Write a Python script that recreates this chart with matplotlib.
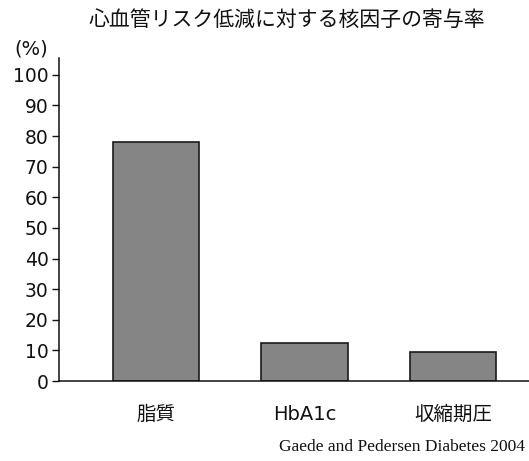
import matplotlib
matplotlib.use("Agg")
import matplotlib.pyplot as plt

# Contribution of each factor to cardiovascular risk reduction (%)
categories = ["脂質", "HbA1c", "収縮期圧"]
values = [78, 12.3, 9.4]
yticks = [0, 10, 20, 30, 40, 50, 60, 70, 80, 90, 100]

title = "心血管リスク低減に対する核因子の寄与率"
unit_label = "(%)"
source = "Gaede and Pedersen Diabetes 2004"

fam = ["DejaVu Sans", "Noto Sans CJK JP"]
cjk = ["Noto Sans CJK JP", "DejaVu Sans"]

W, H = 529, 461
fig = plt.figure(figsize=(W / 100, H / 100), dpi=100)
fig.patch.set_facecolor("white")

ax_l, ax_r, ax_b, ax_t = 59, 529, 381, 58
ax = fig.add_axes([ax_l / W, (H - ax_b) / H, (ax_r - ax_l) / W, (ax_b - ax_t) / H])

x = list(range(len(categories)))
ax.bar(x, values, width=0.58, color="#858585", edgecolor="#1a1a1a", linewidth=1.2, zorder=2)

ax.set_xlim(-0.653, 2.512)
ax.set_ylim(0, 105.5)

ax.spines["top"].set_visible(False)
ax.spines["right"].set_visible(False)
ax.spines["left"].set_color("#111111")
ax.spines["bottom"].set_color("#111111")
ax.spines["left"].set_linewidth(1.1)
ax.spines["bottom"].set_linewidth(1.1)

ax.set_yticks(yticks)
ax.set_yticklabels([str(t) for t in yticks], fontsize=13.5, family=fam, color="#111111")
ax.tick_params(axis="y", direction="out", length=5, width=1, pad=2.5, colors="#111111")

ax.set_xticks(x)
ax.set_xticklabels(categories, fontsize=14, family=fam, color="#111111")
ax.tick_params(axis="x", length=0, pad=17)

fig.text(286.5 / W, 1 - 19.5 / H, title, ha="center", va="center",
         fontsize=15, family=cjk, color="#111111")
fig.text(31 / W, 1 - 49 / H, unit_label, ha="center", va="center",
         fontsize=14, family=fam, color="#111111")
fig.text(525 / W, 1 - 447 / H, source, ha="right", va="center",
         fontsize=12.5, family=["Liberation Serif", "DejaVu Serif"], color="#111111")

fig.savefig("out.png", dpi=100, facecolor="white")
